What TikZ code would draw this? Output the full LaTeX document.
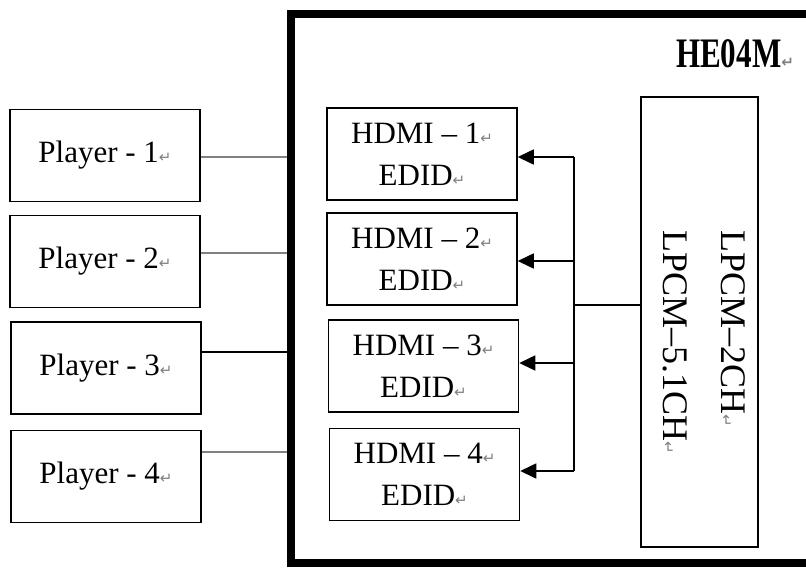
\documentclass[tikz,border=0pt]{standalone}
\usepackage{fontspec}
\setmainfont{Liberation Serif}
\newfontfamily\arrfont{DejaVu Sans}
\newfontfamily\hefont[FakeStretch=0.74]{Liberation Serif}
\usetikzlibrary{arrows.meta}
\newcommand{\retmark}{{\arrfont\fontsize{15}{15}\selectfont\textcolor{gray}{↵}}}
\tikzset{
  box/.style={draw, line width=1.5pt, minimum width=190pt, minimum height=92pt, inner sep=0pt, align=center, font=\fontsize{31}{42}\selectfont},
  link/.style={line width=2pt},
  glink/.style={line width=2.6pt, draw=gray},
  arr/.style={line width=1.6pt, -{Triangle[length=16pt,width=15pt]}}
}
\begin{document}
\begin{tikzpicture}[x=1pt,y=-1pt]
\useasboundingbox (0,0) rectangle (806,568);
\fill[white] (0,0) rectangle (806,568);
\begin{scope}
\clip (0,0) rectangle (806,568);
\node[draw, line width=8pt, minimum width=529pt, minimum height=549pt, inner sep=0pt] (he) at (555.5,288.5) {};
\end{scope}
\node[font=\hefont\bfseries\fontsize{42}{42}\selectfont] (title) at (735,54) {HE04M\retmark};

\node[box] (p1) at (105,155.5) {Player - 1\retmark};
\node[box] (p2) at (105,261.5) {Player - 2\retmark};
\node[box] (p3) at (106,368) {Player - 3\retmark};
\node[box] (p4) at (106,476.5) {Player - 4\retmark};

\node[box] (h1) at (422,154) {HDMI -- 1\retmark\\EDID\retmark};
\node[box] (h2) at (422,259) {HDMI -- 2\retmark\\EDID\retmark};
\node[box] (h3) at (423.5,366) {HDMI -- 3\retmark\\EDID\retmark};
\node[box] (h4) at (424.5,474.5) {HDMI -- 4\retmark\\EDID\retmark};

\node[draw, line width=1.5pt, minimum width=117pt, minimum height=450pt, inner sep=0pt] (lp) at (699.5,322) {};
\node[rotate=-90, align=left, font=\fontsize{36}{58}\selectfont] (lpt) at (704,342) {LPCM--2CH\retmark\\LPCM--5.1CH\retmark};

\draw[glink] (p1.east |- 0,157) -- (he.west |- 0,157);
\draw[glink] (p2.east |- 0,253) -- (he.west |- 0,253);
\draw[link] (p3.east |- 0,352) -- (he.west |- 0,352);
\draw[glink] (p4.east |- 0,452) -- (he.west |- 0,452);

\coordinate (j) at (574,305);
\coordinate (top) at (574,157);
\coordinate (bot) at (574,471);
\draw[link] (lp.west |- j) -- (j);
\draw[link] (top) -- (bot);
\draw[arr] (top) -- (h1.east |- top);
\draw[arr] (574,261) coordinate (a2) -- (h2.east |- a2);
\draw[arr] (574,363) coordinate (a3) -- (h3.east |- a3);
\draw[arr] (bot) -- (h4.east |- bot);
\end{tikzpicture}
\end{document}
